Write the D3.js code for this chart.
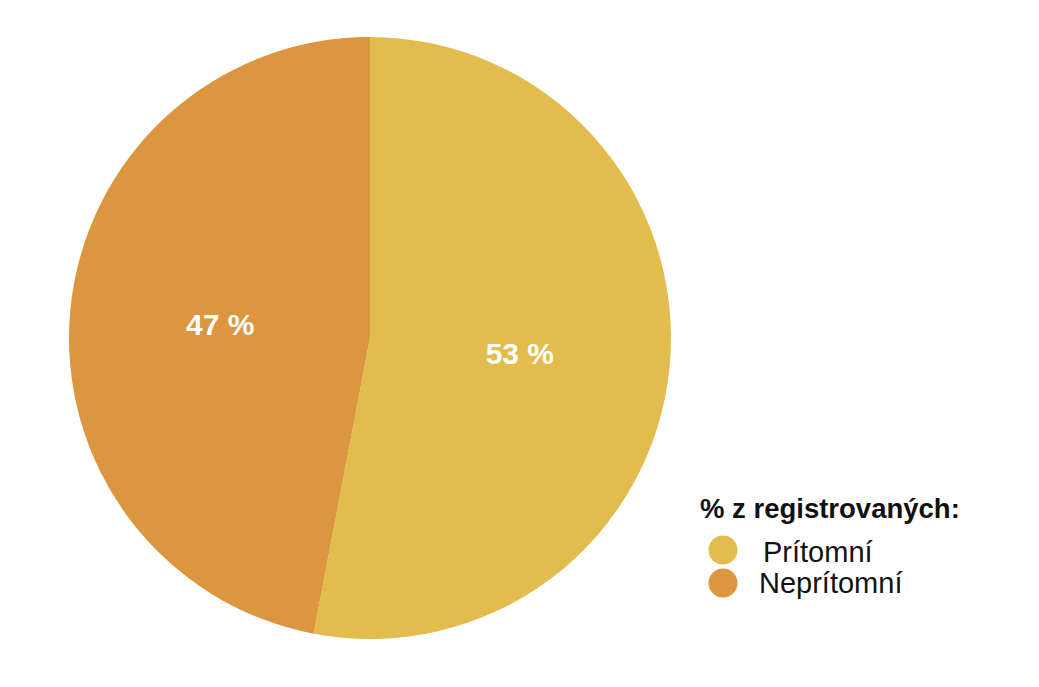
<!DOCTYPE html>
<html><head><meta charset="utf-8">
<script src="https://cdn.jsdelivr.net/npm/d3@7"></script>
<style>body{margin:0;background:#fff}svg{display:block}</style>
</head><body>
<svg id="c" width="1039" height="687"></svg>
<script>
const categories = ["Prítomní", "Neprítomní"];
const values = [53, 47];
const labels = ["53 %", "47 %"];
const colors = ["#E2BC4C", "#DB963F"];
const legendTitle = "% z registrovaných:";

const svg = d3.select("#c");
const cx = 370, cy = 338, R = 301;
const pie = d3.pie().sort(null).value(d => d)(values);
const arc = d3.arc().innerRadius(0).outerRadius(R);
const labelArc = d3.arc().innerRadius(R/2).outerRadius(R/2);
const g = svg.append("g").attr("transform", `translate(${cx},${cy})`);
g.selectAll("path").data(pie).join("path")
  .attr("d", arc).attr("fill", (d,i) => colors[i]);
g.selectAll("text").data(pie).join("text")
  .attr("transform", d => { const c = labelArc.centroid(d); return `translate(${c[0]},${c[1]+1})`; })
  .attr("text-anchor", "middle").attr("dy", "0.35em")
  .attr("fill", "#fff").attr("font-family", "Liberation Sans, Arial, sans-serif")
  .attr("font-weight", "bold").attr("font-size", 30)
  .text((d,i) => labels[i]);

const lg = svg.append("g");
lg.append("text").attr("x", 700).attr("y", 518)
  .attr("font-family", "Liberation Sans, Arial, sans-serif").attr("font-weight", "bold")
  .attr("font-size", 27.5).attr("fill", "#111").text(legendTitle);
const items = lg.selectAll("g.it").data(categories).join("g").attr("class", "it")
  .attr("transform", (d,i) => `translate(0,${550 + i*33})`);
items.append("circle").attr("cx", 723).attr("cy", 0).attr("r", 14.5).attr("fill", (d,i) => colors[i]);
items.append("text").attr("x", (d,i) => i === 0 ? 763 : 759).attr("y", (d,i) => i === 0 ? 12 : 10)
  .attr("font-family", "Liberation Sans, Arial, sans-serif")
  .attr("font-size", 29).attr("fill", "#111").text(d => d);
</script>
</body></html>
